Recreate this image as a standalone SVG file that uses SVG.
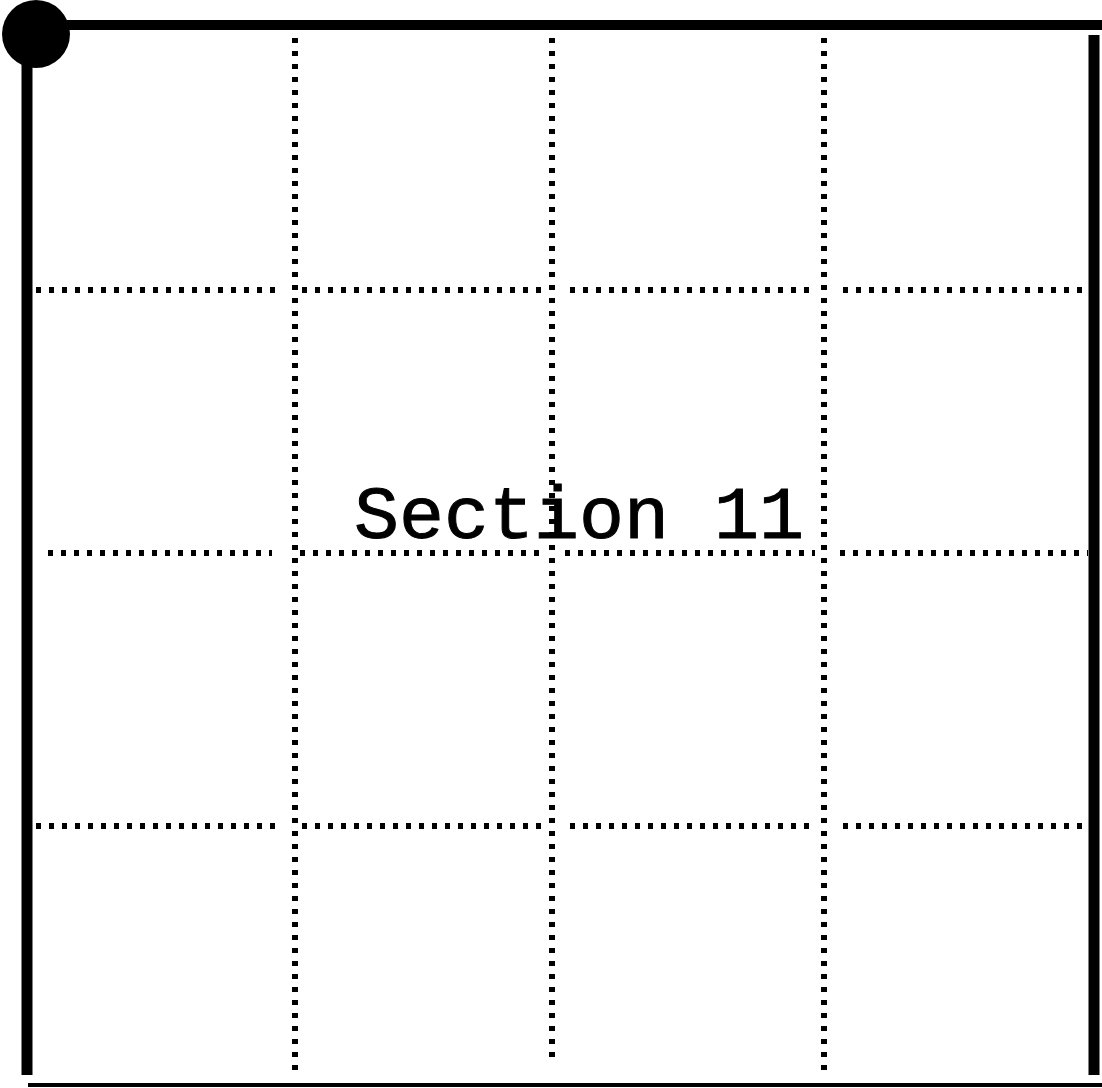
<svg xmlns="http://www.w3.org/2000/svg" width="1102" height="1088" viewBox="0 0 1102 1088">
<style>
.grid{stroke:#000;stroke-width:6;stroke-dasharray:5 8;fill:none}
.frame{stroke:#000;fill:none}
.lbl{font-family:"Liberation Mono","Courier New",monospace;font-size:75px;fill:#000;stroke:#000;stroke-width:1}
</style>
<rect width="1102" height="1088" fill="#fff"/>
<g id="frame">
<line class="frame" x1="60" y1="25" x2="1102" y2="25" stroke-width="10"/>
<line class="frame" x1="27" y1="60" x2="27" y2="1075" stroke-width="11"/>
<line class="frame" x1="1094" y1="35" x2="1094" y2="1075" stroke-width="11"/>
<line class="frame" x1="28" y1="1085" x2="1102" y2="1085" stroke-width="4"/>
</g>
<g id="badge">
<circle cx="36" cy="34" r="34" fill="#000"/>
</g>
<g id="grid">
<line class="grid" x1="295" y1="38" x2="295" y2="1070"/>
<line class="grid" x1="552" y1="38" x2="552" y2="1060"/>
<line class="grid" x1="824" y1="38" x2="824" y2="1070"/>
<line class="grid" x1="36" y1="290" x2="276" y2="290"/>
<line class="grid" x1="302" y1="290" x2="542" y2="290"/>
<line class="grid" x1="570" y1="290" x2="815" y2="290"/>
<line class="grid" x1="843" y1="290" x2="1088" y2="290"/>
<line class="grid" x1="48" y1="553" x2="272" y2="553"/>
<line class="grid" x1="300" y1="553" x2="545" y2="553"/>
<line class="grid" x1="565" y1="553" x2="815" y2="553"/>
<line class="grid" x1="840" y1="553" x2="1088" y2="553"/>
<line class="grid" x1="36" y1="826" x2="276" y2="826"/>
<line class="grid" x1="302" y1="826" x2="545" y2="826"/>
<line class="grid" x1="570" y1="826" x2="815" y2="826"/>
<line class="grid" x1="843" y1="826" x2="1088" y2="826"/>
</g>
<g id="label">
<text class="lbl" x="579" y="538" text-anchor="middle">Section 11</text>
</g>
</svg>
